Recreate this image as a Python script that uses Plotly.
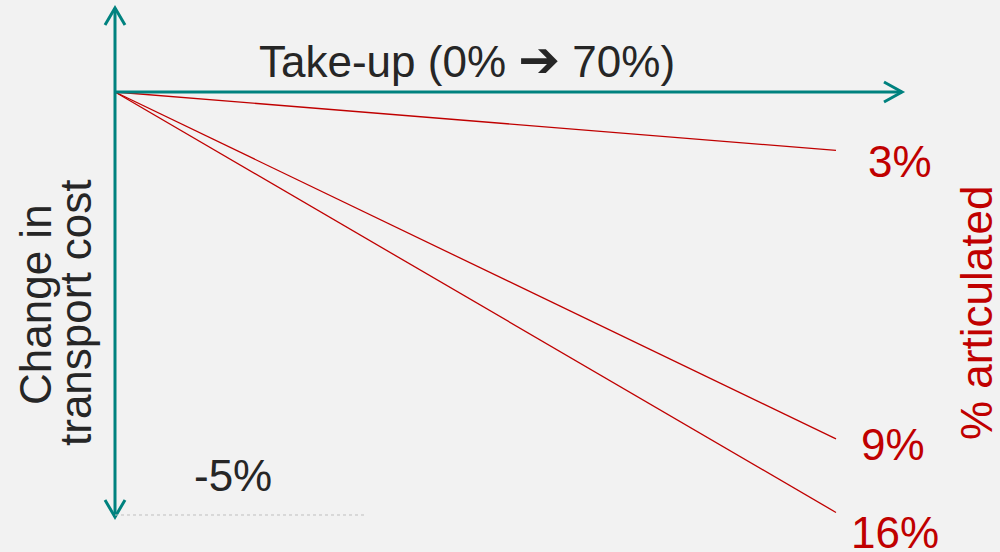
import plotly.graph_objects as go

# ---- data ----
take_up = [0, 70]                      # % take-up (x)
series_names = ["3%", "9%", "16%"]     # % articulated
series_end = [-0.69, -4.10, -4.97]     # change in transport cost (%) at 70% take-up
ref_level = -5                          # -5% reference level
ref_label = "-5%"

# ---- pixel <-> data mapping (layout only) ----
W, H = 1000, 552
ORX, ORY = 115, 92          # origin pixel
XPX = 721 / 70              # px per % take-up
YPX = 423 / 5               # px per % cost change
x0 = -ORX / XPX
x1 = x0 + W / XPX
ytop = ORY / YPX
ybot = -(H - ORY) / YPX

def dx(px):
    return x0 + px / XPX

def dy(py):
    return ytop - py / YPX

RED = "#C00000"
TEAL = "#00827F"
DARK = "#262626"
FONT = "Liberation Sans, Arial, sans-serif"

fig = go.Figure()

for name, yend in zip(series_names, series_end):
    fig.add_trace(go.Scatter(x=take_up, y=[0, yend], mode="lines",
                             line=dict(color=RED, width=1.3), name=name,
                             hoverinfo="skip", showlegend=False))

shapes = []
teal = dict(color=TEAL, width=3)
# vertical axis arrow
shapes.append(dict(type="line", xref="x", yref="y", x0=0, x1=0, y0=dy(8), y1=dy(517), line=teal))
# horizontal axis arrow
shapes.append(dict(type="line", xref="x", yref="y", x0=0, x1=dx(902), y0=0, y1=0, line=teal))
# arrow heads (open chevrons)
def chevron(pts):
    p = "M " + " L ".join(f"{dx(a)},{dy(b)}" for a, b in pts)
    return dict(type="path", xref="x", yref="y", path=p, line=teal)
shapes.append(chevron([(105, 25), (115, 8), (125, 25)]))
shapes.append(chevron([(105, 500), (115, 517), (125, 500)]))
shapes.append(chevron([(884, 82), (902, 92), (884, 102)]))
# dotted reference line at -5%
shapes.append(dict(type="line", xref="x", yref="y", x0=0, x1=dx(365),
                   y0=ref_level, y1=ref_level,
                   line=dict(color="#BFBFBF", width=1, dash="dot")))

ann = []
def label(text, px, py, color, angle=0):
    ann.append(dict(text=text, x=dx(px), y=dy(py), xref="x", yref="y",
                    showarrow=False, textangle=angle,
                    xanchor="center", yanchor="middle",
                    font=dict(family=FONT, size=44, color=color)))

label("Take-up (0% <span style='font-family:DejaVu Sans;font-size:50px'>➔</span> 70%)", 467, 60, DARK)
for name, yend, (px, py) in zip(series_names, series_end,
                                [(900, 161), (893, 444), (895, 532)]):
    label(name, px, py, RED)
label(ref_label, 233, 475, DARK)
label("% articulated", 976, 313, RED, -90)
label("Change in", 35, 305, DARK, -90)
label("transport cost", 75, 313, DARK, -90)

fig.update_layout(
    width=W, height=H,
    margin=dict(l=0, r=0, t=0, b=0),
    paper_bgcolor="#F2F2F2", plot_bgcolor="#F2F2F2",
    xaxis=dict(range=[x0, x1], visible=False, fixedrange=True),
    yaxis=dict(range=[ybot, ytop], visible=False, fixedrange=True),
    shapes=shapes, annotations=ann, showlegend=False,
)

fig.write_html("out.html")
